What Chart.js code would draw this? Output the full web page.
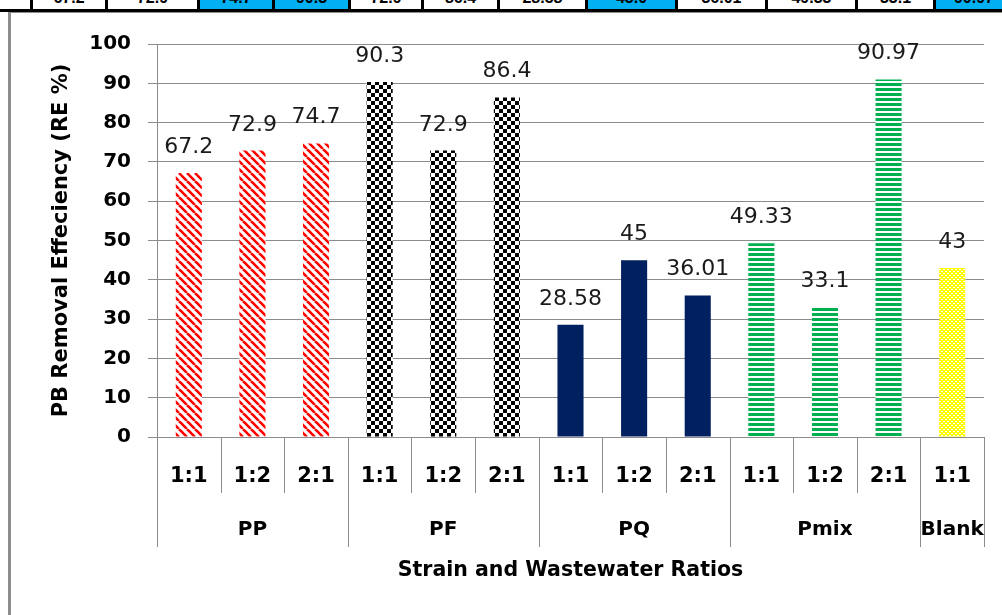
<!DOCTYPE html>
<html>
<head>
<meta charset="utf-8">
<script src="https://cdn.jsdelivr.net/npm/chart.js@4"></script>
<style>
  html, body { margin: 0; padding: 0; background: #fff; width: 1002px; height: 615px; overflow: hidden; }
  #strip { position: absolute; left: 0; top: 0; width: 1002px; height: 9px; overflow: hidden; }
  .cell { position: absolute; top: 0; height: 9px; border-left: 3px solid #000; box-sizing: border-box;
          overflow: hidden; text-align: center; font: bold 16px "Liberation Sans", sans-serif; line-height: 16px; }
  .cell span { position: relative; top: -10px; }
  #rule { position: absolute; left: 0; top: 9px; width: 1002px; height: 3px; background: #000; }
  #frame { position: absolute; left: 8px; top: 12px; width: 1010px; height: 620px;
           border-left: 3px solid #8c8c8c; border-top: 1px solid #8c8c8c; }
  #wrap { position: absolute; left: 11px; top: 13px; width: 991px; height: 602px; }
</style>
</head>
<body>
<div id="strip"></div>
<div id="rule"></div>
<div id="frame"></div>
<div id="wrap"><canvas id="chart" width="991" height="602"></canvas></div>
<script>
// data
const groups = ['PP', 'PF', 'PQ', 'Pmix', 'Blank'];
const groupSizes = [3, 3, 3, 3, 1];
const ratios = ['1:1', '1:2', '2:1', '1:1', '1:2', '2:1', '1:1', '1:2', '2:1', '1:1', '1:2', '2:1', '1:1'];
const removal = [67.2, 72.9, 74.7, 90.3, 72.9, 86.4, 28.58, 45, 36.01, 49.33, 33.1, 90.97, 43];
const yTicks = [0, 10, 20, 30, 40, 50, 60, 70, 80, 90, 100];

const FONT = '"DejaVu Sans", sans-serif';
const GRID = '#8c8c8c';

// table strip cut off at the top of the picture (the first 12 values)
const cellEdges = [30, 105, 197, 272, 348, 421, 497, 585, 675, 765, 855, 933, 1012];
const strip = document.getElementById('strip');
let gi = 0, gStart = 0;
removal.slice(0, 12).forEach((v, i) => {
  if (i >= gStart + groupSizes[gi]) { gStart += groupSizes[gi]; gi++; }
  const grp = removal.slice(gStart, gStart + groupSizes[gi]);
  const d = document.createElement('div');
  d.className = 'cell';
  d.style.left = cellEdges[i] + 'px';
  d.style.width = (cellEdges[i + 1] - cellEdges[i]) + 'px';
  d.style.background = v === Math.max(...grp) ? '#00b0f0' : '#fff';
  d.innerHTML = '<span>' + (Number.isInteger(v) ? v.toFixed(1) : v) + '</span>';
  strip.appendChild(d);
});

// fill patterns
function makePattern(w, h, draw) {
  const c = document.createElement('canvas');
  c.width = w; c.height = h;
  const g = c.getContext('2d');
  draw(g);
  return g.createPattern(c, 'repeat');
}
const redStripes = makePattern(8, 8, g => {
  g.fillStyle = '#fff'; g.fillRect(0, 0, 8, 8);
  g.strokeStyle = '#ff0000'; g.lineWidth = 2.6;
  [-8, 0, 8].forEach(o => { g.beginPath(); g.moveTo(o, 0); g.lineTo(o + 8, 8); g.stroke(); });
});
const checker = makePattern(8, 8, g => {
  g.fillStyle = '#fff'; g.fillRect(0, 0, 8, 8);
  g.fillStyle = '#000'; g.fillRect(0, 0, 4, 4); g.fillRect(4, 4, 4, 4);
});
const greenLines = makePattern(4, 5, g => {
  g.fillStyle = '#fff'; g.fillRect(0, 0, 4, 5);
  g.fillStyle = '#00b050'; g.fillRect(0, 0, 4, 3);
});
const yellowDots = makePattern(4, 4, g => {
  g.fillStyle = '#ffff00'; g.fillRect(0, 0, 4, 4);
  g.fillStyle = '#fff'; g.fillRect(0, 0, 2, 1); g.fillRect(2, 2, 2, 1);
});
const groupFills = [redStripes, checker, '#002060', greenLines, yellowDots];
const barFills = [];
groupSizes.forEach((n, k) => { for (let i = 0; i < n; i++) barFills.push(groupFills[k]); });

// value labels above the bars
const valueLabels = {
  id: 'valueLabels',
  afterDatasetsDraw(chart) {
    const { ctx } = chart;
    ctx.save();
    ctx.font = '22px ' + FONT;
    ctx.fillStyle = '#1a1a1a';
    ctx.textAlign = 'center';
    ctx.textBaseline = 'alphabetic';
    chart.getDatasetMeta(0).data.forEach((bar, i) => {
      ctx.fillText(String(removal[i]), bar.x, bar.y - 20);
    });
    ctx.restore();
  }
};

// two level category box under the plot
const categoryBox = {
  id: 'categoryBox',
  afterDraw(chart) {
    const { ctx, scales: { x } } = chart;
    const top = x.top;
    const half = (x.getPixelForValue(1) - x.getPixelForValue(0)) / 2;
    const edge = i => Math.round(x.getPixelForValue(i) - half) + 0.5;
    const groupEdges = new Set([0]);
    let acc = 0;
    groupSizes.forEach(n => { acc += n; groupEdges.add(acc); });

    ctx.save();
    ctx.strokeStyle = GRID;
    ctx.lineWidth = 1;
    for (let i = 0; i <= ratios.length; i++) {
      ctx.beginPath();
      ctx.moveTo(edge(i), top);
      ctx.lineTo(edge(i), top + (groupEdges.has(i) ? 110 : 56));
      ctx.stroke();
    }
    ctx.font = 'bold 20px ' + FONT;
    ctx.fillStyle = '#000';
    ctx.textAlign = 'center';
    ctx.textBaseline = 'middle';
    let s = 0;
    groups.forEach((g, k) => {
      const a = x.getPixelForValue(s) - half;
      const b = x.getPixelForValue(s + groupSizes[k] - 1) + half;
      ctx.fillText(g, (a + b) / 2, top + 93);
      s += groupSizes[k];
    });
    ctx.restore();
  }
};

new Chart(document.getElementById('chart').getContext('2d'), {
  type: 'bar',
  data: {
    labels: ratios,
    datasets: [{
      data: removal,
      backgroundColor: barFills,
      borderWidth: 0,
      barPercentage: 0.41,
      categoryPercentage: 1
    }]
  },
  options: {
    responsive: false,
    devicePixelRatio: 1,
    animation: false,
    layout: { padding: { top: 31, right: 18, left: 0, bottom: 0 } },
    plugins: {
      legend: { display: false },
      tooltip: { enabled: false }
    },
    scales: {
      x: {
        offset: true,
        grid: { display: false, drawTicks: false },
        border: { display: true, color: GRID },
        ticks: {
          color: '#000',
          font: { family: FONT, size: 21, weight: 'bold' },
          padding: 27,
          maxRotation: 0,
          autoSkip: false
        },
        title: {
          display: true,
          text: 'Strain and Wastewater Ratios',
          color: '#000',
          font: { family: FONT, size: 20.5, weight: 'bold' },
          padding: { top: 0, bottom: 32 }
        },
        afterFit(s) { s.height = 178; }
      },
      y: {
        min: 0,
        max: 100,
        afterBuildTicks(s) { s.ticks = yTicks.map(v => ({ value: v })); },
        grid: { color: GRID, tickLength: 9 },
        border: { display: true, color: GRID },
        ticks: {
          color: '#000',
          font: { family: FONT, size: 20, weight: 'bold' },
          padding: 17
        },
        title: {
          display: true,
          text: 'PB Removal Effeciency (RE %)',
          color: '#000',
          font: { family: FONT, size: 21, weight: 'bold' },
          padding: { top: 38, bottom: 0 }
        },
        afterFit(s) { s.width = 146; }
      }
    }
  },
  plugins: [valueLabels, categoryBox]
});
</script>
</body>
</html>
